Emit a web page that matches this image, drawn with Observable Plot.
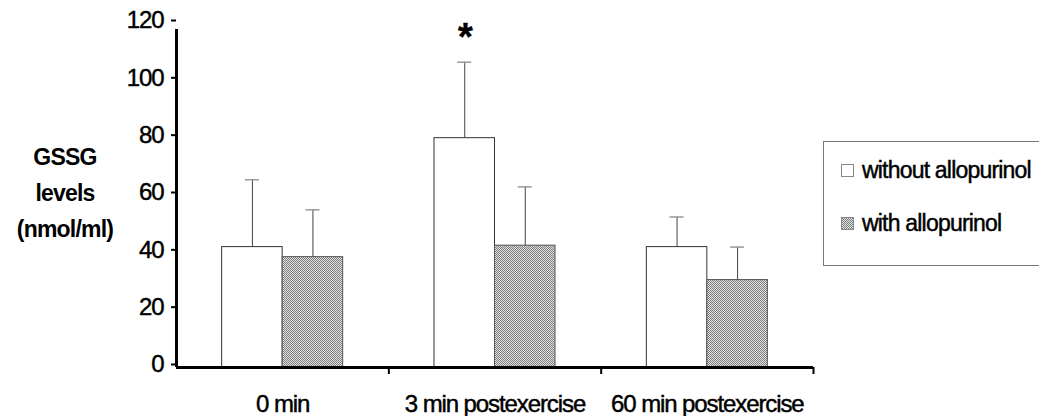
<!DOCTYPE html>
<html>
<head>
<meta charset="utf-8">
<script src="https://cdn.jsdelivr.net/npm/d3@7"></script>
<script src="https://cdn.jsdelivr.net/npm/@observablehq/plot@0.6"></script>
<style>
  body { margin: 0; background: #fff; }
  #wrap { position: relative; width: 1039px; height: 416px; font-family: "Liberation Sans", Arial, sans-serif; }
  #wrap > svg { position: absolute; left: 0; top: 0; }
  #wrap > svg text { letter-spacing: -1.1px; stroke: black; stroke-width: 0.45px; }
  #ytitle { position: absolute; left: 0; top: 139px; width: 130px; text-align: center;
            font-weight: bold; font-size: 23px; line-height: 36px; letter-spacing: -0.8px; }
  #legend { position: absolute; left: 823px; top: 141px; width: 220px; height: 125px;
            border: 1px solid #777; box-sizing: border-box; font-size: 23px; letter-spacing: -0.8px;
            -webkit-text-stroke: 0.45px black; }
  .item { position: absolute; left: 17px; display: flex; align-items: center; white-space: nowrap; }
</style>
</head>
<body>
<svg width="0" height="0" style="position:absolute">
  <defs>
    <!-- fine dithered grey used for the "with allopurinol" bars -->
    <pattern id="with-pattern" width="2" height="2" patternUnits="userSpaceOnUse">
      <rect width="2" height="2" fill="#e4e4e4"/>
      <rect x="0" y="0" width="1" height="1" fill="#7c7c7c"/>
      <rect x="1" y="1" width="1" height="1" fill="#7c7c7c"/>
    </pattern>
  </defs>
</svg>
<div id="wrap">
  <div id="ytitle">GSSG<br>levels<br>(nmol/ml)</div>
  <div id="legend"></div>
</div>
<script>
// GSSG levels (nmol/ml), mean and SD per time point
const categories = ["0 min", "3 min postexercise", "60 min postexercise"];
const groups = ["without allopurinol", "with allopurinol"];
const withoutMean = [42, 80, 42];
const withoutSD = [23.5, 26.5, 10.5];
const withMean = [38.5, 42.5, 30.5];
const withSD = [16.5, 20.5, 11.5];
const significance = ["", "*", ""]; // marks on the "without allopurinol" bars
const yTicks = [0, 20, 40, 60, 80, 100, 120];

// bar width and error-cap half width, in category units on the x scale
const barW = 0.285;
const capHalf = 0.033;

const rows = [];
categories.forEach((c, i) => {
  rows.push({category: c, index: i, gi: 0, mean: withoutMean[i], sd: withoutSD[i], sig: significance[i]});
  rows.push({category: c, index: i, gi: 1, mean: withMean[i], sd: withSD[i], sig: ""});
});
const barLeft = d => d.index + (d.gi - 1) * barW;
const barRight = d => d.index + d.gi * barW;
const barCenter = d => d.index + (d.gi - 0.5) * barW;
const errTop = d => d.mean + d.sd;

const chart = Plot.plot({
  width: 1039,
  height: 416,
  marginLeft: 176,
  marginRight: 226,
  marginTop: 23,
  marginBottom: 49,
  style: {fontFamily: "'Liberation Sans', Arial, sans-serif", fontSize: "24px", background: "transparent"},
  x: {domain: [-0.5, categories.length - 0.5], axis: null},
  y: {domain: [0, 120], axis: null},
  marks: [
    // bars
    Plot.rectY(rows.filter(d => d.gi === 0), {x1: barLeft, x2: barRight, y: "mean", fill: "white", stroke: "#333", strokeWidth: 1}),
    Plot.rectY(rows.filter(d => d.gi === 1), {x1: barLeft, x2: barRight, y: "mean", fill: "url(#with-pattern)", stroke: "#555", strokeWidth: 1}),
    // upper error bars
    Plot.ruleX(rows, {x: barCenter, y1: "mean", y2: errTop, stroke: "#444", strokeWidth: 1}),
    Plot.ruleY(rows, {y: errTop, x1: d => barCenter(d) - capHalf, x2: d => barCenter(d) + capHalf, stroke: "#999", strokeWidth: 1.5}),
    // significance mark
    Plot.text(rows.filter(d => d.sig), {x: barCenter, y: errTop, text: "sig", fontSize: 38, fontWeight: "bold", lineAnchor: "bottom", dy: -12}),
    // y axis
    Plot.axisY({ticks: yTicks, tickSize: 5, tickPadding: 8, fontSize: 24, strokeWidth: 2, dy: -3, label: null}),
    Plot.ruleX([-0.5], {y1: 0, y2: 120, stroke: "black", strokeWidth: 3, insetBottom: -6}),
    // x axis: boundary ticks, then category labels
    Plot.ruleY([0], {stroke: "black", strokeWidth: 3}),
    Plot.axisX({ticks: d3.range(categories.length).map(i => i + 0.5), tickSize: 7, strokeWidth: 2, tickFormat: () => "", label: null}),
    Plot.axisX({ticks: d3.range(categories.length), tickSize: 0, tickPadding: 27, fontSize: 24, tickFormat: i => categories[i], label: null})
  ]
});
document.getElementById("wrap").prepend(chart);

// legend
const legend = document.getElementById("legend");
const swatchFills = ["white", "url(#with-pattern)"];
groups.forEach((g, i) => {
  const item = document.createElement("div");
  item.className = "item";
  item.style.top = (i === 0 ? 15 : 68) + "px";
  const sw = document.createElementNS("http://www.w3.org/2000/svg", "svg");
  sw.setAttribute("width", 13); sw.setAttribute("height", 13);
  sw.style.marginRight = "8px";
  sw.innerHTML = `<rect x="0.5" y="0.5" width="12" height="12" fill="${swatchFills[i]}" stroke="#888"/>`;
  item.appendChild(sw);
  const t = document.createElement("span");
  t.textContent = g;
  item.appendChild(t);
  legend.appendChild(item);
});
</script>
</body>
</html>
